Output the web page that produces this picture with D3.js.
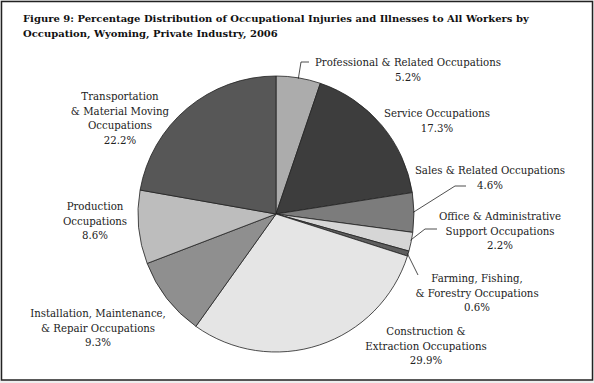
<!DOCTYPE html>
<html><head><meta charset="utf-8">
<script src="https://cdn.jsdelivr.net/npm/d3@7/dist/d3.min.js"></script>
<style>body{margin:0;background:#eeeeee;} svg{display:block;}</style>
</head><body>
<svg id="c" width="594" height="383"></svg>
<script>
const categories = [
  "Professional & Related Occupations",
  "Service Occupations",
  "Sales & Related Occupations",
  "Office & Administrative Support Occupations",
  "Farming, Fishing, & Forestry Occupations",
  "Construction & Extraction Occupations",
  "Installation, Maintenance, & Repair Occupations",
  "Production Occupations",
  "Transportation & Material Moving Occupations"
];
const values = [5.2, 17.3, 4.6, 2.2, 0.6, 29.9, 9.3, 8.6, 22.2];
const labelLines = [
  ["Professional & Related Occupations"],
  ["Service Occupations"],
  ["Sales & Related Occupations"],
  ["Office & Administrative", "Support Occupations"],
  ["Farming, Fishing,", "& Forestry Occupations"],
  ["Construction &", "Extraction Occupations"],
  ["Installation, Maintenance,", "& Repair Occupations"],
  ["Production", "Occupations"],
  ["Transportation", "& Material Moving", "Occupations"]
];
const colors = ["#acacac","#3d3d3d","#7c7c7c","#d6d6d6","#5e5e5e","#e5e5e5","#8f8f8f","#bdbdbd","#575757"];
const titleLines = [
  "Figure 9: Percentage Distribution of Occupational Injuries and Illnesses to All Workers by",
  "Occupation, Wyoming, Private Industry, 2006"
];

// layout (not data)
const labelPos = [[408,62],[437,113],[490,170],[500,216],[477,278],[426,331],[98,313],[95,206],[120,96]];
const leaders = {0:[[301,62],[309,62]], 2:[[455,186],[466,186]], 3:[[425,229],[437,229]], 4:[[418,275]]};
const leaderStartShift = {3:-0.01};

const svg = d3.select("#c");
svg.append("rect").attr("x",1.5).attr("y",1.5).attr("width",591).attr("height",378.5)
  .attr("fill","#fff").attr("stroke","#222").attr("stroke-width",1.5);

const tt = svg.append("text").attr("font-family","'DejaVu Serif', serif").attr("font-weight","bold")
  .attr("font-size",10).attr("fill","#111");
titleLines.forEach((t,i)=>tt.append("tspan").attr("x",23).attr("y",22+i*15).text(t));

const cx=276, cy=214, R=138;
const g = svg.append("g").attr("transform",`translate(${cx},${cy})`);
const pie = d3.pie().sort(null).value(d=>d);
const arcs = pie(values);
const arc = d3.arc().innerRadius(0).outerRadius(R);
g.selectAll("path").data(arcs).join("path")
  .attr("d",arc).attr("fill",(d,i)=>colors[i])
  .attr("stroke","#222").attr("stroke-width",0.8).attr("stroke-linejoin","round");

// leader lines
Object.keys(leaders).forEach(k=>{
  const a = arcs[k]; const m=(a.startAngle+a.endAngle)/2 + (leaderStartShift[k]||0);
  const p0=[cx+Math.sin(m)*(R-1), cy-Math.cos(m)*(R-1)];
  const pts=[p0, ...leaders[k]];
  svg.append("path").attr("d",d3.line()(pts)).attr("fill","none").attr("stroke","#222").attr("stroke-width",0.8);
});

const fmt = d3.format(".1f");
labelLines.forEach((lines,i)=>{
  const t = svg.append("text").attr("font-family","'DejaVu Serif', serif").attr("font-size",10.2)
    .attr("fill","#222").attr("text-anchor","middle");
  const all = lines.concat([fmt(values[i])+"%"]);
  all.forEach((s,j)=>t.append("tspan").attr("x",labelPos[i][0]).attr("y",labelPos[i][1]+4+j*14.6).text(s));
});
</script>
</body></html>
